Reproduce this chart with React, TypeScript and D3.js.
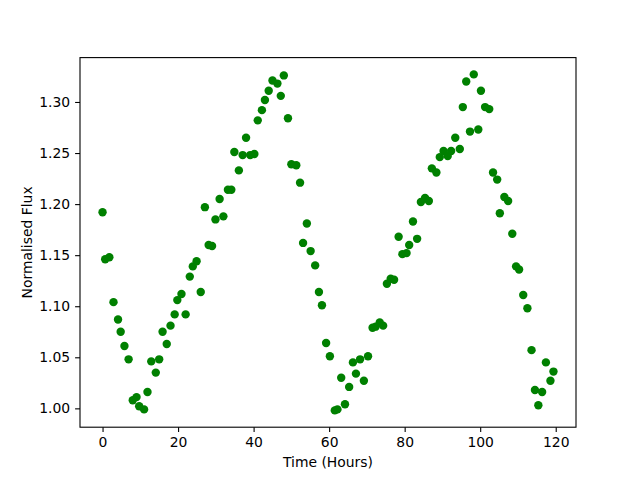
import React, { useEffect, useRef } from 'react';
import * as d3 from 'd3';

// Time (hours) and normalised flux
const timeHours = [
  0.0, 0.7, 1.8, 2.9, 4.1, 4.8, 5.8, 6.9, 8.0, 9.0,
  9.7, 11.0, 11.9, 12.9, 14.1, 15.0, 15.9, 17.0, 18.0, 19.1,
  19.8, 20.9, 22.0, 23.1, 23.9, 24.9, 26.0, 27.1, 28.1, 29.0,
  29.9, 31.0, 32.0, 33.2, 34.1, 34.9, 36.1, 37.1, 38.0, 39.1,
  40.2, 41.1, 42.2, 43.0, 44.0, 45.0, 46.3, 47.2, 48.0, 49.1,
  50.0, 51.3, 52.3, 53.1, 54.1, 55.1, 56.3, 57.3, 58.1, 59.2,
  60.2, 61.5, 62.2, 63.2, 64.2, 65.3, 66.3, 67.1, 68.2, 69.2,
  70.3, 71.5, 72.3, 73.4, 74.3, 75.3, 76.3, 77.2, 78.4, 79.4,
  80.5, 81.2, 82.2, 83.3, 84.3, 85.4, 86.4, 87.2, 88.4, 89.3,
  90.3, 91.4, 92.3, 93.4, 94.6, 95.4, 96.3, 97.3, 98.3, 99.5,
  100.2, 101.3, 102.4, 103.4, 104.5, 105.2, 106.4, 107.4, 108.5, 109.5,
  110.3, 111.4, 112.5, 113.6, 114.5, 115.4, 116.4, 117.4, 118.6, 119.4,
];

const flux = [
  1.192, 1.146, 1.148, 1.104, 1.087, 1.075, 1.061, 1.048, 1.008, 1.011,
  1.002, 0.999, 1.016, 1.046, 1.035, 1.048, 1.075, 1.063, 1.081, 1.092,
  1.106, 1.112, 1.092, 1.129, 1.139, 1.144, 1.114, 1.197, 1.16, 1.159,
  1.185, 1.205, 1.188, 1.214, 1.214, 1.251, 1.233, 1.248, 1.265, 1.248,
  1.249, 1.282, 1.292, 1.302, 1.311, 1.321, 1.318, 1.306, 1.326, 1.284,
  1.239, 1.238, 1.221, 1.162, 1.181, 1.154, 1.14, 1.114, 1.101, 1.064,
  1.051, 0.998, 0.999, 1.03, 1.004, 1.021, 1.045, 1.034, 1.048, 1.027,
  1.051, 1.079, 1.08, 1.084, 1.081, 1.122, 1.127, 1.126, 1.168, 1.151,
  1.152, 1.16, 1.183, 1.166, 1.202, 1.206, 1.203, 1.235, 1.231, 1.246,
  1.252, 1.247, 1.252, 1.265, 1.254, 1.295, 1.32, 1.271, 1.327, 1.273,
  1.311, 1.295, 1.293, 1.231, 1.224, 1.191, 1.207, 1.203, 1.171, 1.139,
  1.136, 1.111, 1.098, 1.057, 1.018, 1.003, 1.016, 1.045, 1.027, 1.036,
];

const xTicks = [0, 20, 40, 60, 80, 100, 120];
const yTicks = [1.0, 1.05, 1.1, 1.15, 1.2, 1.25, 1.3];

const App = () => {
  const chartRef = useRef<SVGSVGElement>(null);

  useEffect(() => {
    const width = 640;
    const height = 480;
    const margin = { top: 57.6, right: 64, bottom: 52.8, left: 80 };
    const innerW = width - margin.left - margin.right;
    const innerH = height - margin.top - margin.bottom;
    const font = 'DejaVu Sans, sans-serif';

    const data = timeHours.map((t, i) => ({ t, v: flux[i] }));

    // matplotlib style 5% padding around the data
    const [tMin, tMax] = d3.extent(timeHours) as [number, number];
    const [vMin, vMax] = d3.extent(flux) as [number, number];
    const tPad = (tMax - tMin) * 0.05;
    const vPad = (vMax - vMin) * 0.05;

    const xScale = d3.scaleLinear().domain([tMin - tPad, tMax + tPad]).range([0, innerW]);
    const yScale = d3.scaleLinear().domain([vMin - vPad, vMax + vPad]).range([innerH, 0]);

    const root = d3.select(chartRef.current);
    root.selectAll('*').remove();
    root.attr('width', width).attr('height', height);

    root.append('rect').attr('width', width).attr('height', height).attr('fill', '#fff');

    const svg = root
      .append('g')
      .attr('transform', `translate(${margin.left}, ${margin.top})`);

    // points
    svg
      .append('g')
      .selectAll('circle')
      .data(data)
      .enter()
      .append('circle')
      .attr('cx', (d) => xScale(d.t))
      .attr('cy', (d) => yScale(d.v))
      .attr('r', 4.2)
      .attr('fill', '#008000');

    // axes
    const xAxis = d3
      .axisBottom(xScale)
      .tickValues(xTicks)
      .tickSize(4.9)
      .tickPadding(4.9)
      .tickFormat((d) => String(d));
    const yAxis = d3
      .axisLeft(yScale)
      .tickValues(yTicks)
      .tickSize(4.9)
      .tickPadding(4.9)
      .tickFormat((d) => (d as number).toFixed(2));

    const gx = svg.append('g').attr('transform', `translate(0, ${innerH})`).call(xAxis);
    const gy = svg.append('g').call(yAxis);

    [gx, gy].forEach((g) => {
      g.select('.domain').remove();
      g.selectAll('line').attr('stroke', '#000').attr('stroke-width', 1.1);
      g.selectAll('text')
        .attr('font-family', font)
        .attr('font-size', '13.9px')
        .attr('fill', '#000');
    });

    // frame
    svg
      .append('rect')
      .attr('width', innerW)
      .attr('height', innerH)
      .attr('fill', 'none')
      .attr('stroke', '#000')
      .attr('stroke-width', 1.1);

    // labels
    svg
      .append('text')
      .attr('x', innerW / 2)
      .attr('y', innerH + 40)
      .attr('text-anchor', 'middle')
      .attr('font-family', font)
      .attr('font-size', '13.9px')
      .text('Time (Hours)');

    svg
      .append('text')
      .attr('transform', `translate(${-48}, ${innerH / 2}) rotate(-90)`)
      .attr('text-anchor', 'middle')
      .attr('font-family', font)
      .attr('font-size', '13.9px')
      .text('Normalised Flux');
  }, []);

  return (
    <div style={{ position: 'absolute', left: 0, top: 0 }}>
      <svg ref={chartRef} style={{ display: 'block' }}></svg>
    </div>
  );
};

export default App;
